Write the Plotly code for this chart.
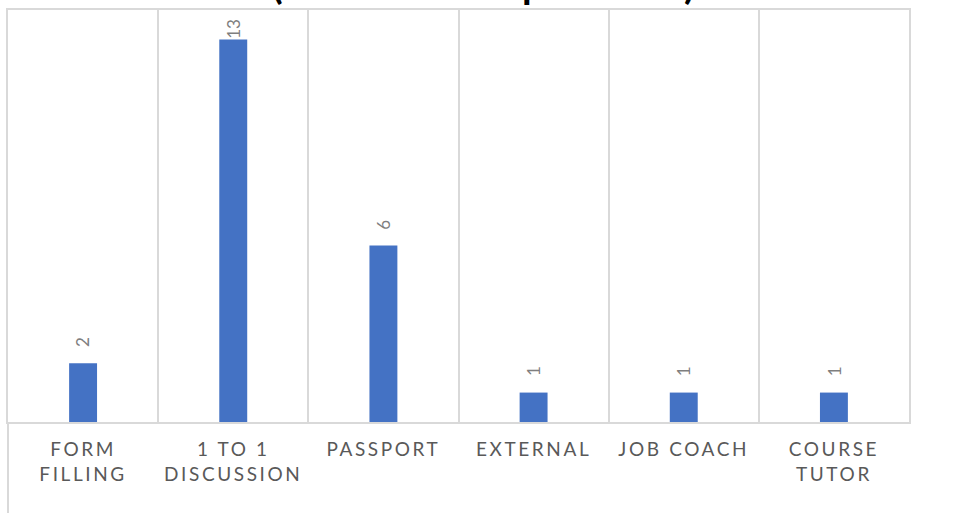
import plotly.graph_objects as go

categories = ["FORM<br>FILLING", "1 TO 1<br>DISCUSSION", "PASSPORT", "EXTERNAL", "JOB COACH", "COURSE<br>TUTOR"]
values = [2, 13, 6, 1, 1, 1]
title_text = "(number of respondents)"

Y_MAX = 14
BAR_COLOR = "#4472C4"
GRID = "#d9d9d9"
FONT = "Lato, 'Open Sans', sans-serif"

fig = go.Figure()
fig.add_trace(go.Bar(
    x=categories, y=values,
    marker=dict(color=BAR_COLOR, line=dict(width=0)),
    hoverinfo="x+y",
))

# data labels, rotated, kept inside the plot area like Excel does
label_off = 0.72
top_limit = Y_MAX - 0.63
for c, v in zip(categories, values):
    fig.add_annotation(
        x=c, y=min(v + label_off, top_limit), text=str(v),
        showarrow=False, textangle=-90,
        xanchor="center", yanchor="middle",
        font=dict(family=FONT, size=17, color="#7f7f7f"),
    )

# title (mostly cut off at the top of the picture, as in the reference)
fig.add_annotation(
    xref="paper", yref="paper", x=(483 - 8) / 901, y=1,
    text="<b>" + title_text + "</b>", showarrow=False,
    xanchor="center", yanchor="bottom", yshift=1,
    font=dict(family=FONT, size=39, color="#000000"),
)

# left border continues below the axis
fig.add_shape(type="line", xref="paper", yref="paper", x0=0, x1=0, y0=0, y1=-91 / 412,
              line=dict(color=GRID, width=2), layer="below")

fig.update_layout(
    width=956, height=513,
    margin=dict(l=8, r=47, t=10, b=91, autoexpand=False),
    paper_bgcolor="white", plot_bgcolor="white",
    bargap=0.814, showlegend=False,
    font=dict(family=FONT),
)
fig.update_xaxes(
    type="category", tickson="boundaries", showgrid=True, gridcolor=GRID, gridwidth=2,
    showline=True, mirror=True, linecolor=GRID, linewidth=2,
    ticks="", ticklabelstandoff=9,
    tickfont=dict(family=FONT, size=19, color="#595959"),
    automargin=False, fixedrange=True,
)
fig.update_yaxes(
    range=[0, Y_MAX], showgrid=False, zeroline=False, showticklabels=False, ticks="",
    showline=True, mirror=True, linecolor=GRID, linewidth=2,
    automargin=False, fixedrange=True,
)

post = ("var s=document.createElement('style');"
        "s.textContent='body{margin:0;overflow:hidden;} .xtick text{letter-spacing:2.6px;}';"
        "document.head.appendChild(s);")
fig.write_html("out.html", post_script=post, config={"displayModeBar": False})
